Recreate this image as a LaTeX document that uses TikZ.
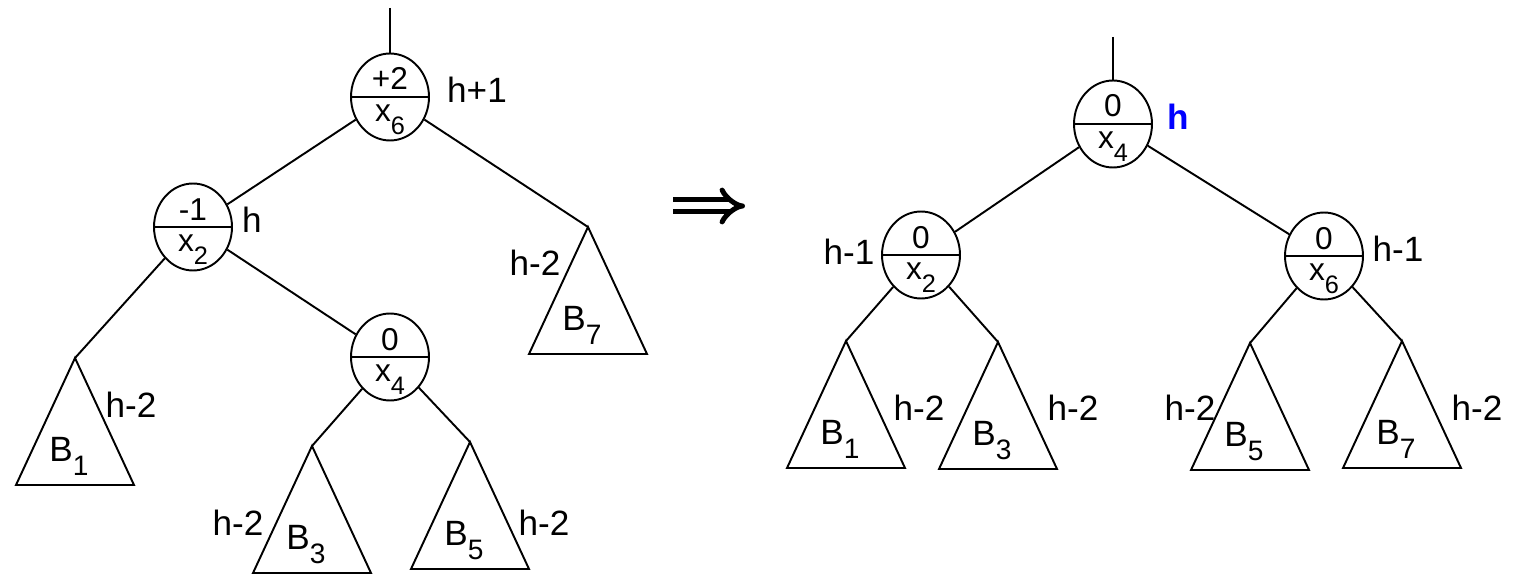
\documentclass[tikz,border=0pt]{standalone}
\usepackage{fontspec}
\setmainfont{Liberation Sans}
\usetikzlibrary{shapes.geometric, arrows.meta}
\definecolor{HeightBlue}{RGB}{0,0,255}

\tikzset{
  link/.style={line width=1.1pt},
  avl/.style={ellipse, draw, line width=1.1pt, minimum width=1.56cm,
              minimum height=1.74cm, inner sep=0pt},
  balance/.style={font=\fontsize{18}{18}\selectfont, inner sep=0pt, anchor=base},
  keyname/.style={font=\fontsize{18}{18}\selectfont, inner sep=0pt, anchor=base},
  hlabel/.style={font=\fontsize{20}{20}\selectfont, inner sep=0pt},
  subname/.style={font=\fontsize{20}{20}\selectfont, inner sep=0pt, anchor=base}
}
\newcommand{\sub}[1]{\raisebox{-0.4em}{\scalebox{0.8}{#1}}}
% node with balance factor above the bar and key below
\newcommand{\avlnode}[4]{%
  \node[avl] (#1) at (#2) {};
  \draw[line width=1.6pt] (#1.west) -- (#1.east);
  \node[balance] (#1-bal) at ([yshift=0.14cm]#1.center) {#3};
  \node[keyname] (#1-key) at ([yshift=-0.5cm]#1.center) {x\sub{#4}};
}
% subtree triangle hanging from its apex
\newcommand{\subtree}[3]{%
  \coordinate (#1) at (#2);
  \draw[link] (#1) -- ++(-59,127) -- ++(118,0) -- cycle;
  \path (#1) ++(-6,103) node[subname] (#1-name) {B\sub{#3}};
}

\begin{document}
\begin{tikzpicture}[x=0.02cm, y=-0.02cm]
    \useasboundingbox (0,0) rectangle (1513,577);

    % left tree
    \coordinate (topL) at (390,8);
    \avlnode{x6L}{390,97}{+2}{6}
    \avlnode{x2L}{193,227}{-1}{2}
    \avlnode{x4L}{390,357}{0}{4}
    \subtree{b1L}{75,358}{1}
    \subtree{b3L}{312,446}{3}
    \subtree{b5L}{470,442}{5}
    \subtree{b7L}{588,227}{7}
    \draw[link] (topL) -- (x6L);
    \draw[link] (x6L) -- (x2L);
    \draw[link] (x6L) -- (b7L);
    \draw[link] (x2L) -- (b1L);
    \draw[link] (x2L) -- (x4L);
    \draw[link] (x4L) -- (b3L);
    \draw[link] (x4L) -- (b5L);
    \node[hlabel] (h6L) at (477,90) {h+1};
    \node[hlabel] (h2L) at (252,220) {h};
    \node[hlabel] (h1L) at (131,405) {h-2};
    \node[hlabel] (h3L) at (238,523) {h-2};
    \node[hlabel] (h5L) at (544,523) {h-2};
    \node[hlabel] (h7L) at (535,263) {h-2};

    % rotation arrow
    \coordinate (arrowS) at (673,206);
    \coordinate (arrowE) at (745,206);
    \draw[line width=0.1cm, double distance=0.14cm, -{Implies}] (arrowS) -- (arrowE);

    % right tree
    \coordinate (topR) at (1113,37);
    \avlnode{x4R}{1113,124}{0}{4}
    \avlnode{x2R}{921,255}{0}{2}
    \avlnode{x6R}{1324,256}{0}{6}
    \subtree{b1R}{846,341}{1}
    \subtree{b3R}{998,342}{3}
    \subtree{b5R}{1250,343}{5}
    \subtree{b7R}{1402,341}{7}
    \draw[link] (topR) -- (x4R);
    \draw[link] (x4R) -- (x2R);
    \draw[link] (x4R) -- (x6R);
    \draw[link] (x2R) -- (b1R);
    \draw[link] (x2R) -- (b3R);
    \draw[link] (x6R) -- (b5R);
    \draw[link] (x6R) -- (b7R);
    \node[hlabel, font=\fontsize{20}{20}\selectfont\bfseries, text=HeightBlue] (h4R) at (1178,117) {h};
    \node[hlabel] (h2R) at (849,252) {h-1};
    \node[hlabel] (h6R) at (1398,249) {h-1};
    \node[hlabel] (h1R) at (919,408) {h-2};
    \node[hlabel] (h3R) at (1073,408) {h-2};
    \node[hlabel] (h5R) at (1190,408) {h-2};
    \node[hlabel] (h7R) at (1477,408) {h-2};
\end{tikzpicture}
\end{document}
